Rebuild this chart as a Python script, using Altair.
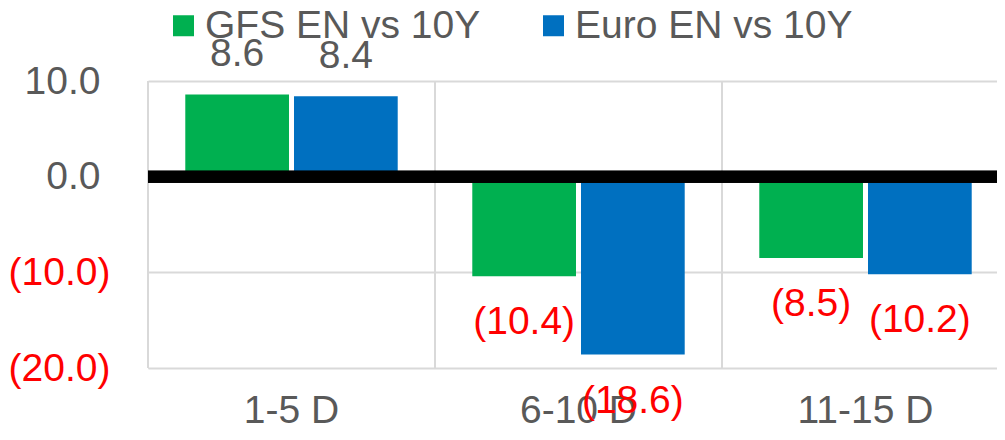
import altair as alt
import pandas as pd

categories = ["1-5 D", "6-10 D", "11-15 D"]
series_names = ["GFS EN vs 10Y", "Euro EN vs 10Y"]
gfs_values = [8.6, -10.4, -8.5]
euro_values = [8.4, -18.6, -10.2]
series_colors = ["#00B050", "#0070C0"]
y_ticks = [10, 0, -10, -20]

rows = []
for c, g, e in zip(categories, gfs_values, euro_values):
    rows.append({"cat": c, "series": series_names[0], "value": g})
    rows.append({"cat": c, "series": series_names[1], "value": e})
df = pd.DataFrame(rows)
cat_df = pd.DataFrame({"cat": categories})

FONT = "Liberation Sans"
GRAY = "#595959"
RED = "#FF0000"
FS = 39

x_enc = alt.X("cat:N", sort=categories, title=None,
              scale=alt.Scale(paddingInner=0, paddingOuter=0, range=[0, 861]),
              axis=alt.Axis(grid=False, ticks=False, domain=False, labelAngle=0,
                            labelAlign="center",
                            labelFontSize=FS, labelColor=GRAY, labelFont=FONT,
                            labelPadding=23, labelBaseline="top"))
xo_enc = alt.XOffset("series:N", sort=series_names,
                     scale=alt.Scale(paddingInner=0.046, paddingOuter=0.343))
y_enc = alt.Y("value:Q", title=None,
              scale=alt.Scale(domain=[-20, 10], nice=False, zero=False),
              axis=alt.Axis(values=y_ticks, grid=True, gridColor="#D9D9D9", gridWidth=2,
                            ticks=False, domain=False, labelFont=FONT, labelFontSize=FS,
                            labelExpr="datum.value < 0 ? '(' + format(-datum.value, '.1f') + ')' : format(datum.value, '.1f')",
                            labelColor={"condition": {"test": "datum.value < 0", "value": RED}, "value": GRAY},
                            labelPadding={"condition": {"test": "datum.value < 0", "value": 38}, "value": 48}))

vgrid = alt.Chart(cat_df).mark_rule(color="#D9D9D9", strokeWidth=2).encode(
    x=alt.X("cat:N", sort=categories, bandPosition=0)
)

bars = alt.Chart(df).mark_bar().encode(
    x=x_enc,
    xOffset=xo_enc,
    y=y_enc,
    color=alt.Color("series:N", sort=series_names,
                    scale=alt.Scale(domain=series_names, range=series_colors),
                    legend=alt.Legend(title=None, orient="none", direction="horizontal",
                                      legendX=16, legendY=-75, padding=0,
                                      symbolType="square", symbolSize=441, symbolStrokeWidth=0,
                                      symbolOpacity=1,
                                      labelFontSize=39, labelColor=GRAY, labelFont=FONT,
                                      labelLimit=0, labelOffset=2, columnPadding=53)),
)

zero = alt.Chart(cat_df).mark_rule(color="black", strokeWidth=12).encode(y=alt.datum(0))

label_expr = "datum.value < 0 ? '(' + format(-datum.value, '.1f') + ')' : format(datum.value, '.1f')"
pos_labels = alt.Chart(df).transform_filter("datum.value >= 0").transform_calculate(
    lbl=label_expr
).mark_text(font=FONT, fontSize=FS, color=GRAY, dy=-28, baseline="alphabetic").encode(
    x=alt.X("cat:N", sort=categories), xOffset=alt.XOffset("series:N", sort=series_names),
    y="value:Q", text="lbl:N"
)
neg_labels = alt.Chart(df).transform_filter("datum.value < 0").transform_calculate(
    lbl=label_expr
).mark_text(font=FONT, fontSize=FS, color=RED, dy=58, baseline="alphabetic").encode(
    x=alt.X("cat:N", sort=categories), xOffset=alt.XOffset("series:N", sort=series_names),
    y="value:Q", text="lbl:N"
)

chart = alt.layer(vgrid, bars, zero, pos_labels, neg_labels).properties(
    width=849, height=287,
    autosize=alt.AutoSizeParams(type="none"),
    padding={"left": 140, "top": 73, "right": 0, "bottom": 56},
).configure_view(stroke=None).configure(font=FONT, background="white")

chart.save("out.html", embed_options={"renderer": "svg", "actions": False})
